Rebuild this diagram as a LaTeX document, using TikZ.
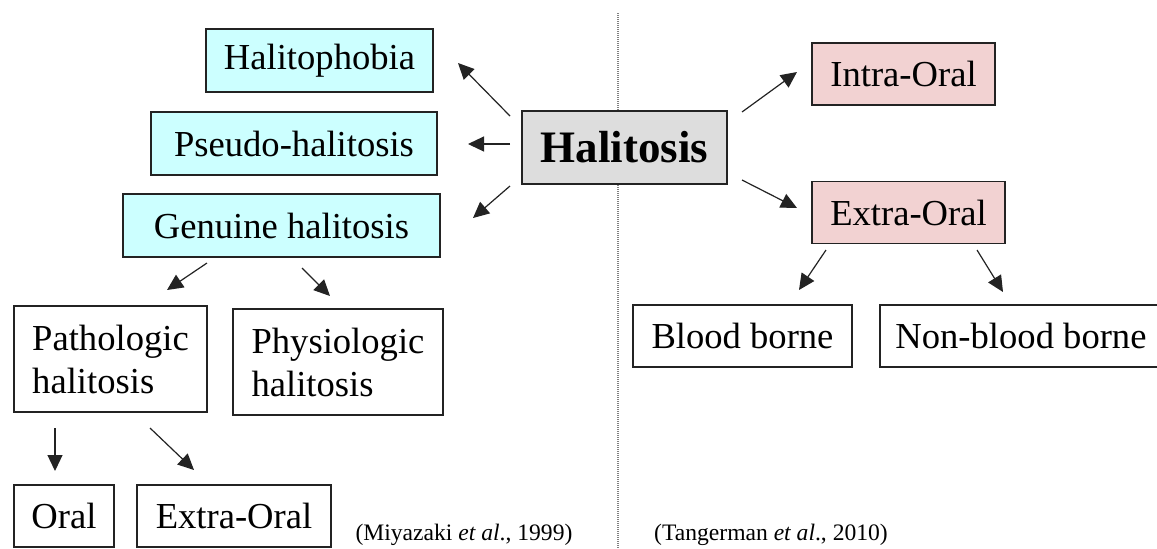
\documentclass[tikz,border=0pt]{standalone}
\usepackage{fontspec}
\setmainfont{Liberation Serif}
\usetikzlibrary{arrows.meta}
\definecolor{phobiacyan}{RGB}{204,255,255}
\definecolor{oralpink}{RGB}{242,210,210}
\definecolor{centergray}{RGB}{221,221,221}
\definecolor{bordercolor}{RGB}{35,35,35}
\tikzset{
  base/.style={draw=bordercolor, line width=0.9pt, inner sep=0pt,
               font=\fontsize{18.3}{21.5}\selectfont},
  cyanbox/.style  = {base, fill=phobiacyan, minimum height=31.5pt},
  pinkbox/.style  = {base, fill=oralpink,   minimum height=31pt},
  plainbox/.style = {base, fill=white,      minimum height=31pt},
  twoline/.style  = {plainbox, align=left,  minimum height=53pt},
  arr/.style      = {-{Triangle[length=8pt, width=7.5pt]}, line width=0.6pt, color=bordercolor},
}
\begin{document}
\begin{tikzpicture}[x=0.5pt, y=-0.5pt,
  cite/.style={font=\fontsize{11.8}{13}\selectfont},
  divider/.style={line width=0.6pt, color=gray, dash pattern=on 0.5pt off 0.5pt}
]
  \useasboundingbox (0,0) rectangle (1157,548);
  \fill[white] (0,0) rectangle (1157,548);

  % Divider
  \coordinate (divtop) at (618,13);
  \coordinate (divbot) at (618,548);
  \draw[divider] (divtop) -- (divbot);

  % Centre
  \node[base, fill=centergray, minimum width=102.5pt, minimum height=36.5pt,
        font=\fontsize{22.5}{26}\selectfont\bfseries] (halitosis) at (624.5,147.5) {Halitosis};

  % Left tree
  \node[cyanbox, minimum width=113.5pt] (phobia)  at (319.5,60.5)  {Halitophobia};
  \node[cyanbox, minimum width=143pt]   (pseudo)  at (294,143.5)   {Pseudo-halitosis};
  \node[cyanbox, minimum width=158.5pt] (genuine) at (281.5,225.5) {Genuine halitosis};
  \node[twoline, minimum width=96.5pt]  (patho)   at (110.5,359)   {Pathologic\\halitosis};
  \node[twoline, minimum width=105pt]   (physio)  at (338,362)     {Physiologic\\halitosis};
  \node[plainbox, minimum width=50pt]   (oral)    at (64,516)      {Oral};
  \node[plainbox, minimum width=97pt]   (extraL)  at (234,516)     {Extra-Oral};
  \node[cite] (miyazaki) at (464,535) {(Miyazaki \textit{et al}., 1999)};

  % Right tree
  \node[pinkbox, minimum width=91.5pt]   (intra)    at (903.5,74)    {Intra-Oral};
  \node[pinkbox, minimum width=96.5pt]   (extraR)   at (908.5,212.5) {Extra-Oral};
  \node[plainbox, minimum width=109.5pt] (blood)    at (742.5,336)   {Blood borne};
  \node[plainbox, minimum width=141pt]   (nonblood) at (1021,336)    {Non-blood borne};
  \node[cite] (tangerman) at (771,535) {(Tangerman \textit{et al}., 2010)};

  % Arrow ends
  \coordinate (phobiaS) at (510,116);  \coordinate (phobiaT) at (458,63);
  \coordinate (pseudoS) at (510,144);  \coordinate (pseudoT) at (468,144);
  \coordinate (genuineS) at (510,186); \coordinate (genuineT) at (473,218);
  \coordinate (intraS) at (742,112);   \coordinate (intraT) at (797,72);
  \coordinate (extraRS) at (742,180);  \coordinate (extraRT) at (797,208);
  \coordinate (bloodS) at (826,250);   \coordinate (bloodT) at (799,290);
  \coordinate (nonbloodS) at (977,250); \coordinate (nonbloodT) at (1003,292);
  \coordinate (pathoS) at (207,263);   \coordinate (pathoT) at (167,290);
  \coordinate (physioS) at (302,268);  \coordinate (physioT) at (330,296);
  \coordinate (oralS) at (55,428);     \coordinate (oralT) at (55,471);
  \coordinate (extraLS) at (150,428);  \coordinate (extraLT) at (194,470);

  % Arrows
  \draw[arr] (phobiaS) -- (phobiaT);
  \draw[arr] (pseudoS) -- (pseudoT);
  \draw[arr] (genuineS) -- (genuineT);
  \draw[arr] (intraS) -- (intraT);
  \draw[arr] (extraRS) -- (extraRT);
  \draw[arr] (bloodS) -- (bloodT);
  \draw[arr] (nonbloodS) -- (nonbloodT);
  \draw[arr] (pathoS) -- (pathoT);
  \draw[arr] (physioS) -- (physioT);
  \draw[arr] (oralS) -- (oralT);
  \draw[arr] (extraLS) -- (extraLT);
\end{tikzpicture}
\end{document}
